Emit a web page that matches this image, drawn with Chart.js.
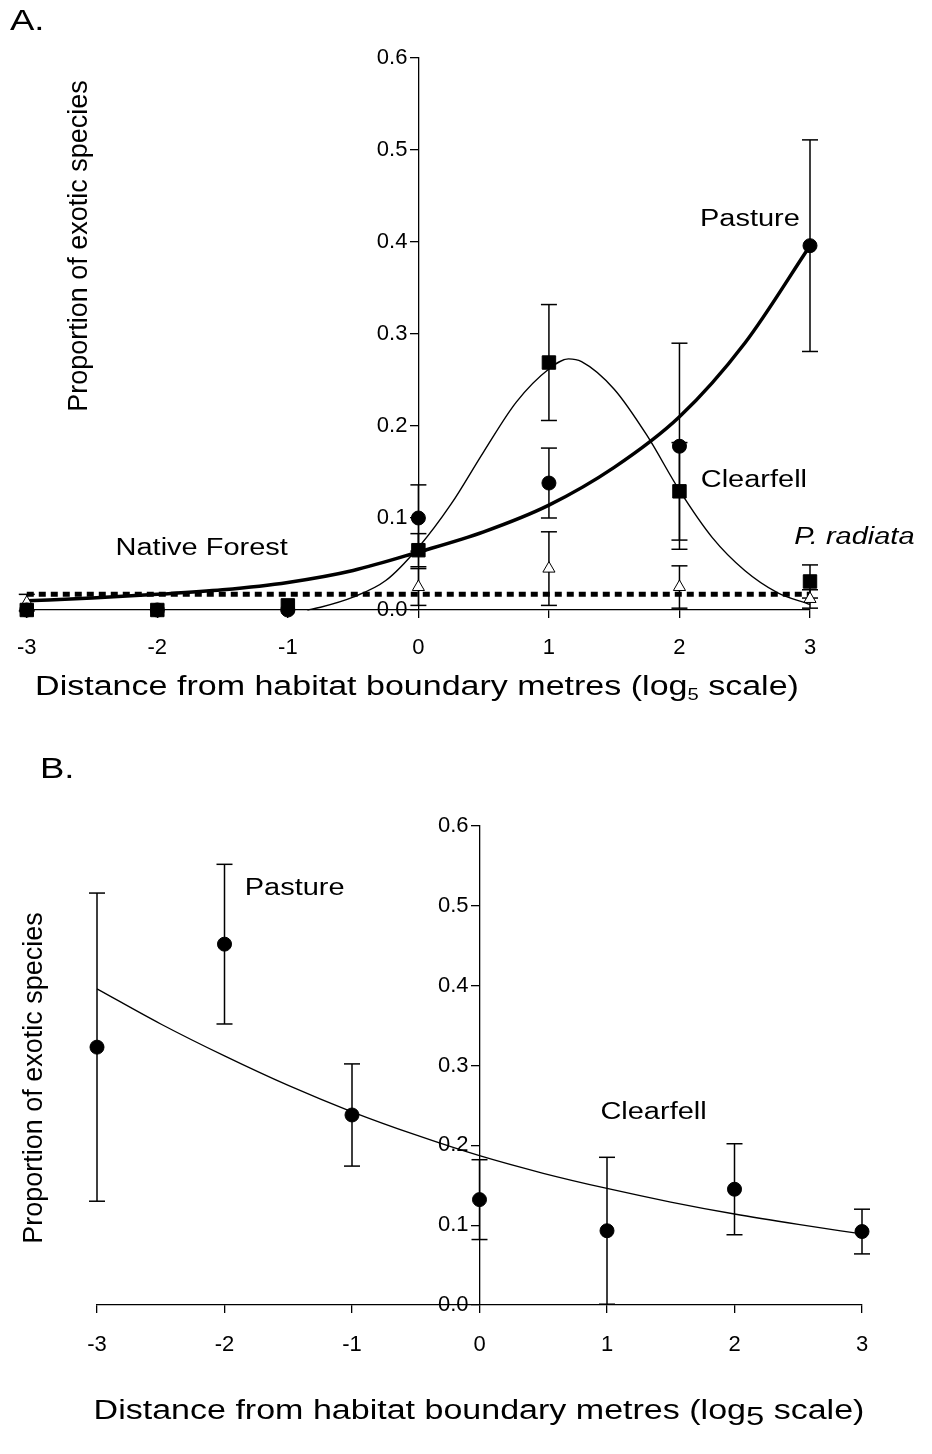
<!DOCTYPE html>
<html>
<head>
<meta charset="utf-8">
<script src="https://cdn.jsdelivr.net/npm/chart.js@4.4.0/dist/chart.umd.min.js"></script>
<style>
  body { margin: 0; background: #fff; }
  canvas { position: absolute; left: 0; }
  #chartA { top: 0; }
  #chartB { top: 730px; }
</style>
</head>
<body>
<canvas id="chartA" width="932" height="730"></canvas>
<canvas id="chartB" width="932" height="724"></canvas>
<script>
'use strict';

// DATA
let distance = [-3, -2, -1, 0, 1, 2, 3];
let xTicks = [-3, -2, -1, 0, 1, 2, 3];
let yTicks = [0, 0.1, 0.2, 0.3, 0.4, 0.5, 0.6];

// panel A - means and error bar half widths
let pastureA = [0, 0, 0, 0.100, 0.138, 0.178, 0.396];
let pastureAErr = [0, 0, 0, 0.036, 0.038, 0.112, 0.115];
let clearfellA = [0, 0, 0.005, 0.065, 0.269, 0.129, 0.031];
let clearfellAErr = [0, 0, 0, 0.018, 0.063, 0.053, 0.018];
let radiataA = [0.008, 0, 0, 0.025, 0.045, 0.025, 0.012];
let radiataAErr = [0.009, 0, 0, 0.020, 0.040, 0.023, 0.010];

// panel A - fitted curves
let pastureFitX = [-3, -2.5, -2, -1.5, -1, -0.5, 0, 0.5, 1, 1.5, 2, 2.5, 3];
let pastureFitY = [0.010, 0.013, 0.017, 0.022, 0.030, 0.043, 0.063, 0.085, 0.114, 0.155, 0.210, 0.290, 0.396];
let clearfellFitX = [-0.85, -0.75, -0.5, -0.25, 0, 0.25, 0.5, 0.75, 1, 1.15, 1.25, 1.5, 1.75, 2, 2.25, 2.5, 2.75, 3];
let clearfellFitY = [0, 0.003, 0.014, 0.032, 0.068, 0.115, 0.172, 0.226, 0.262, 0.273, 0.270, 0.240, 0.190, 0.130, 0.079, 0.043, 0.019, 0.006];
let radiataFitX = [-3, 3];
let radiataFitY = [0.017, 0.017];

// panel B
let pastureB = [0.323, 0.452, 0.238, 0.132, 0.093, 0.145, 0.092];
let pastureBErr = [0.193, 0.100, 0.064, 0.050, 0.092, 0.057, 0.028];
let fitBX = [-3, -2.5, -2, -1.5, -1, -0.5, 0, 0.5, 1, 1.5, 2, 2.5, 3];
let fitBY = [0.396, 0.352, 0.312, 0.275, 0.242, 0.213, 0.187, 0.165, 0.146, 0.129, 0.114, 0.101, 0.089];

const fontFamily = "'Liberation Sans', Arial, sans-serif";
// the original figure is stretched sideways, so its text is too
const stretch = 1.26;

// FUNCTIONS
function points(xs, ys) {
  return xs.map((x, i) => ({ x: x, y: ys[i] }));
}

// two points per bar, a null between bars so the line breaks
function errorBars(xs, ys, errs) {
  let pts = [];
  for (let i = 0; i < xs.length; i++) {
    if (!errs[i]) continue;
    pts.push({ x: xs[i], y: ys[i] - errs[i] });
    pts.push({ x: xs[i], y: ys[i] + errs[i] });
    pts.push({ x: xs[i], y: null });
  }
  return pts;
}

function errorDataset(xs, ys, errs) {
  return {
    data: errorBars(xs, ys, errs),
    showLine: true,
    spanGaps: false,
    borderColor: '#000',
    borderWidth: 1.5,
    pointStyle: 'line',
    pointRadius: 8,
    pointBorderWidth: 1.5,
    pointBorderColor: '#000',
    clip: false,
    order: 5
  };
}

function fitDataset(xs, ys, width, dash) {
  return {
    data: points(xs, ys),
    showLine: true,
    borderColor: '#000',
    borderWidth: width,
    borderDash: dash || [],
    pointRadius: 0,
    cubicInterpolationMode: 'monotone',
    clip: false,
    order: 4
  };
}

function markerDataset(ys, style, radius, fill) {
  return {
    data: points(distance, ys),
    pointStyle: style,
    pointRadius: radius,
    pointBackgroundColor: fill,
    pointBorderColor: '#000',
    pointBorderWidth: 1,
    clip: false,
    order: 1
  };
}

function scaleOptions(axisPadding, bottomHeight) {
  return {
    x: {
      type: 'linear',
      min: -3,
      max: 3,
      position: 'bottom',
      afterBuildTicks: (scale) => { scale.ticks = xTicks.map(v => ({ value: v })); },
      ticks: { color: '#000', font: { family: fontFamily, size: 22 }, padding: axisPadding, autoSkip: false },
      grid: { drawOnChartArea: false, color: '#000', tickLength: 8, lineWidth: 1.3 },
      border: { color: '#000', width: 1.3 },
      afterFit: (scale) => { scale.height = bottomHeight; }
    },
    y: {
      type: 'linear',
      min: 0,
      max: 0.6,
      position: { x: 0 },
      afterBuildTicks: (scale) => { scale.ticks = yTicks.map(v => ({ value: v })); },
      // labels are drawn by figureText so they sit left of the tick marks
      ticks: { display: false },
      grid: { drawOnChartArea: false, color: '#000', tickLength: 8, lineWidth: 1.3 },
      border: { color: '#000', width: 1.3 }
    }
  };
}

function stretchedText(ctx, text, x, y, size, align, italic) {
  ctx.save();
  ctx.translate(x, y);
  ctx.scale(stretch, 1);
  ctx.font = `${italic ? 'italic ' : ''}${size}px ${fontFamily}`;
  ctx.textAlign = align;
  ctx.fillText(text, 0, 0);
  ctx.restore();
}

// texts: titles in canvas pixels, labels in data units
function textPlugin(cfg) {
  return {
    id: 'figureText',
    afterDraw(chart) {
      const ctx = chart.ctx;
      const xs = chart.scales.x;
      const ys = chart.scales.y;
      ctx.save();
      ctx.fillStyle = '#000';
      ctx.textBaseline = 'middle';

      stretchedText(ctx, cfg.panel, cfg.panelX, cfg.panelY, 29, 'left');

      // y tick labels
      const axisX = xs.getPixelForValue(0);
      ctx.font = `22px ${fontFamily}`;
      ctx.textAlign = 'right';
      for (const t of ys.ticks) {
        ctx.fillText(t.value.toFixed(1), axisX - 11, ys.getPixelForValue(t.value));
      }

      for (const lab of cfg.labels) {
        stretchedText(ctx, lab.text, xs.getPixelForValue(lab.x), ys.getPixelForValue(lab.y), 23, 'center', lab.italic);
      }

      // y title
      ctx.save();
      ctx.translate(cfg.yTitleX, cfg.yTitleY);
      ctx.rotate(-Math.PI / 2);
      ctx.font = `27px ${fontFamily}`;
      ctx.textAlign = 'center';
      ctx.fillText('Proportion of exotic species', 0, 0);
      ctx.restore();

      // x title with subscript 5
      const main1 = 'Distance from habitat boundary metres (log';
      const main2 = ' scale)';
      ctx.save();
      ctx.translate(cfg.xTitleX, cfg.xTitleY);
      ctx.scale(stretch, 1);
      ctx.font = `27px ${fontFamily}`;
      const w1 = ctx.measureText(main1).width;
      const w3 = ctx.measureText(main2).width;
      ctx.font = `${cfg.subSize}px ${fontFamily}`;
      const w2 = ctx.measureText('5').width;
      let left = -(w1 + w2 + w3) / 2;
      ctx.textAlign = 'left';
      ctx.font = `27px ${fontFamily}`;
      ctx.fillText(main1, left, 0);
      ctx.font = `${cfg.subSize}px ${fontFamily}`;
      ctx.fillText('5', left + w1, cfg.subDrop);
      ctx.font = `27px ${fontFamily}`;
      ctx.fillText(main2, left + w1 + w2, 0);
      ctx.restore();

      ctx.restore();
    }
  };
}

// CHART A
let chartA = new Chart(document.getElementById('chartA'), {
  type: 'scatter',
  data: {
    datasets: [
      markerDataset(pastureA, 'circle', 7, '#000'),
      markerDataset(clearfellA, 'rect', 9.5, '#000'),
      markerDataset(radiataA, 'triangle', 7, '#fff'),
      fitDataset(pastureFitX, pastureFitY, 3.5),
      fitDataset(clearfellFitX, clearfellFitY, 1.4),
      fitDataset(radiataFitX, radiataFitY, 5, [7, 5]),
      errorDataset(distance, pastureA, pastureAErr),
      errorDataset(distance, clearfellA, clearfellAErr),
      errorDataset(distance, radiataA, radiataAErr)
    ]
  },
  options: {
    responsive: false,
    animation: false,
    layout: { padding: { left: 22, right: 122, top: 58, bottom: 0 } },
    plugins: { legend: { display: false }, tooltip: { enabled: false } },
    scales: scaleOptions(17, 120)
  },
  plugins: [textPlugin({
    panel: 'A.', panelX: 10, panelY: 22,
    yTitleX: 80, yTitleY: 246,
    xTitleX: 417, xTitleY: 688, subSize: 16, subDrop: 8,
    labels: [
      { text: 'Native Forest', x: -1.66, y: 0.067 },
      { text: 'Pasture', x: 2.54, y: 0.424 },
      { text: 'Clearfell', x: 2.57, y: 0.141 },
      { text: 'P. radiata', x: 3.34, y: 0.079, italic: true }
    ]
  })]
});

// CHART B
let chartB = new Chart(document.getElementById('chartB'), {
  type: 'scatter',
  data: {
    datasets: [
      markerDataset(pastureB, 'circle', 7, '#000'),
      fitDataset(fitBX, fitBY, 1.3),
      errorDataset(distance, pastureB, pastureBErr)
    ]
  },
  options: {
    responsive: false,
    animation: false,
    layout: { padding: { left: 97, right: 70, top: 96, bottom: 0 } },
    plugins: { legend: { display: false }, tooltip: { enabled: false } },
    scales: scaleOptions(19, 149)
  },
  plugins: [textPlugin({
    panel: 'B.', panelX: 40, panelY: 40,
    yTitleX: 35, yTitleY: 348,
    xTitleX: 479, xTitleY: 682, subSize: 26, subDrop: 6,
    labels: [
      { text: 'Pasture', x: -1.45, y: 0.522 },
      { text: 'Clearfell', x: 1.365, y: 0.2415 }
    ]
  })]
});
</script>
</body>
</html>
